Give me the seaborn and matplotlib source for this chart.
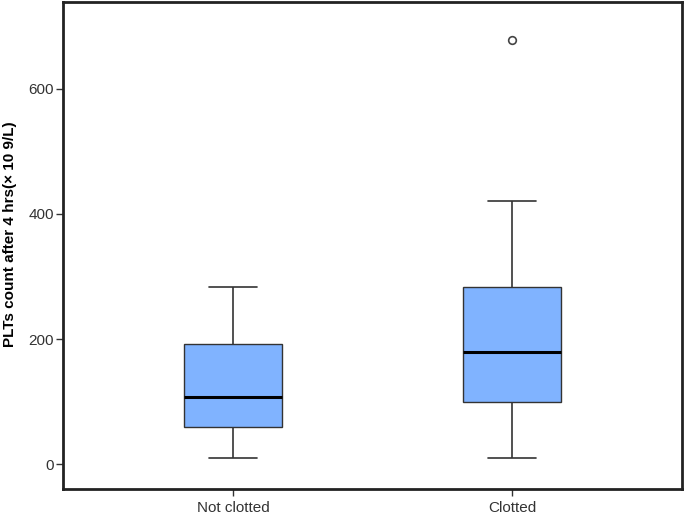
import numpy as np
import pandas as pd
import seaborn as sns
import matplotlib
matplotlib.use("Agg")
import matplotlib.pyplot as plt

# Values (PLTs count after 4 hrs, x10^9/L)
categories = ["Not clotted", "Clotted"]
whisker_low = [9, 10]
q1 = [60, 100]
median = [107, 180]
q3 = [192, 284]
whisker_high = [284, 421]
outliers = [[], [678]]
y_ticks = [0, 200, 400, 600]

# Build a minimal sample per group whose quartiles / whiskers equal the read values
rows = []
for i, cat in enumerate(categories):
    vals = [whisker_low[i], q1[i], q1[i], median[i], median[i], q3[i], q3[i], whisker_high[i]]
    vals += outliers[i] if outliers[i] else [whisker_high[i]]
    for v in vals:
        rows.append({"group": cat, "value": v})
df = pd.DataFrame(rows)

sns.set_theme(style="white")
plt.rcParams["font.family"] = ["Liberation Sans", "DejaVu Sans"]

fig = plt.figure(figsize=(6.85, 5.16), dpi=100)
ax = fig.add_axes([63 / 685, 1 - 488.5 / 516, (682 - 63) / 685, (488.5 - 2) / 516])

sns.boxplot(
    data=df, x="group", y="value", order=categories, ax=ax,
    width=0.35, color="#80B3FF", saturation=1, whis=1.5,
    boxprops=dict(facecolor="#80B3FF", edgecolor="#333333", linewidth=1.0),
    medianprops=dict(color="black", linewidth=2.2),
    whiskerprops=dict(color="#333333", linewidth=1.2),
    capprops=dict(color="#333333", linewidth=1.2),
    flierprops=dict(marker="o", markerfacecolor="white", markeredgecolor="#444444",
                    markersize=5.5, markeredgewidth=1.2),
)

ax.set_xlim(-0.61, 1.61)
ax.set_ylim(-39, 739)
ax.set_yticks(y_ticks)
ax.set_yticklabels([str(t) for t in y_ticks])
ax.set_xlabel("")
ax.set_ylabel("PLTs count after 4 hrs(× 10 9/L)", fontsize=11, fontweight="bold",
              color="black")
ax.yaxis.set_label_coords(-(63 - 17.5) / 619, (488.5 - 234) / 486.5)

for s in ax.spines.values():
    s.set_visible(True)
    s.set_color("#222222")
    s.set_linewidth(2.0)

ax.tick_params(axis="both", which="major", direction="out", length=5, width=1,
               color="#333333", labelcolor="#333333", labelsize=11,
               left=True, bottom=True)
ax.tick_params(axis="y", pad=1.5)
ax.tick_params(axis="x", pad=4)
ax.grid(False)
ax.set_facecolor("white")
fig.patch.set_facecolor("white")

fig.savefig("out.png", dpi=100)
